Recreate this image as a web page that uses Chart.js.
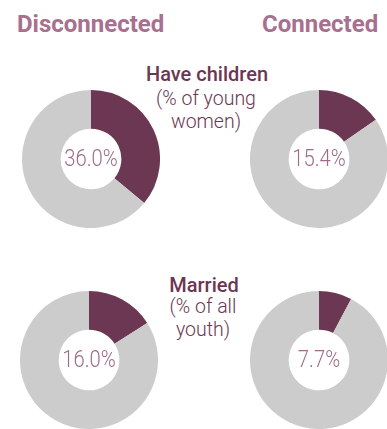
<!DOCTYPE html>
<html>
<head>
<meta charset="utf-8">
<script src="https://cdn.jsdelivr.net/npm/chart.js@4/dist/chart.umd.min.js"></script>
<style>
  html, body { margin: 0; padding: 0; background: #ffffff; }
  body { width: 387px; height: 429px; position: relative; overflow: hidden; font-family: Roboto, "Open Sans", sans-serif; }
  .abs { position: absolute; white-space: nowrap; }
  .group { color: #a8708f; font-weight: 700; font-size: 24px; top: 10px; }
  .title { color: #6b3752; font-weight: 500; font-size: 20px; text-align: center; width: 160px; }
  .sub { color: #6b3752; font-weight: 300; font-size: 19.5px; line-height: 22.5px; text-align: center; width: 160px; }
  canvas.donut { position: absolute; }
</style>
</head>
<body>
<div class="abs group" id="g0" style="left:17px;"></div>
<div class="abs group" id="g1" style="left:262px;"></div>

<div class="abs title" id="t0" style="top:62px;left:127px;"></div>
<div class="abs sub" id="s0" style="top:88px;left:126px;"></div>
<div class="abs title" id="t1" style="top:273px;left:124px;"></div>
<div class="abs sub" id="s1" style="top:296px;left:123px;"></div>

<canvas class="donut" id="c00" width="138" height="138" style="left:22px;top:90px;"></canvas>
<canvas class="donut" id="c01" width="138" height="138" style="left:250px;top:90px;"></canvas>
<canvas class="donut" id="c10" width="138" height="138" style="left:20px;top:291px;"></canvas>
<canvas class="donut" id="c11" width="138" height="138" style="left:250px;top:291px;"></canvas>

<script>
// Groups compared side by side
const groups = ["Disconnected", "Connected"];
// Indicators, one row each
const indicators = ["Have children", "Married"];
const indicatorNotes = [["(% of young", "women)"], ["(% of all", "youth)"]];
// Share (%) for each indicator: [Disconnected, Connected]
const haveChildren = [36.0, 15.4];
const married = [16.0, 7.7];

const shares = [haveChildren, married];
const ACCENT = "#6b3752";
const REST = "#cccccc";
const LABEL = "#9e6c8a";

document.getElementById("g0").textContent = groups[0];
document.getElementById("g1").textContent = groups[1];
indicators.forEach((name, i) => {
  document.getElementById("t" + i).textContent = name;
  document.getElementById("s" + i).innerHTML = indicatorNotes[i].join("<br>");
});

// Writes the share value in the doughnut hole, slightly condensed
const centerLabel = {
  id: "centerLabel",
  afterDraw(chart) {
    const arc = chart.getDatasetMeta(0).data[0];
    if (!arc) return;
    const ctx = chart.ctx;
    const v = chart.data.datasets[0].data[0];
    ctx.save();
    ctx.translate(arc.x, arc.y + 1);
    ctx.scale(0.88, 1);
    ctx.font = "300 23px Roboto, sans-serif";
    ctx.fillStyle = LABEL;
    ctx.textAlign = "center";
    ctx.textBaseline = "middle";
    ctx.fillText(v.toFixed(1) + "%", 0, 0);
    ctx.restore();
  }
};

shares.forEach((row, i) => {
  row.forEach((v, j) => {
    new Chart(document.getElementById("c" + i + j), {
      type: "doughnut",
      data: {
        labels: [indicators[i], "Other"],
        datasets: [{
          data: [v, 100 - v],
          backgroundColor: [ACCENT, REST],
          borderWidth: 0,
          hoverOffset: 0
        }]
      },
      options: {
        responsive: false,
        animation: false,
        cutout: "44%",
        layout: { padding: 0 },
        plugins: { legend: { display: false }, tooltip: { enabled: false } }
      },
      plugins: [centerLabel]
    });
  });
});
</script>
</body>
</html>
